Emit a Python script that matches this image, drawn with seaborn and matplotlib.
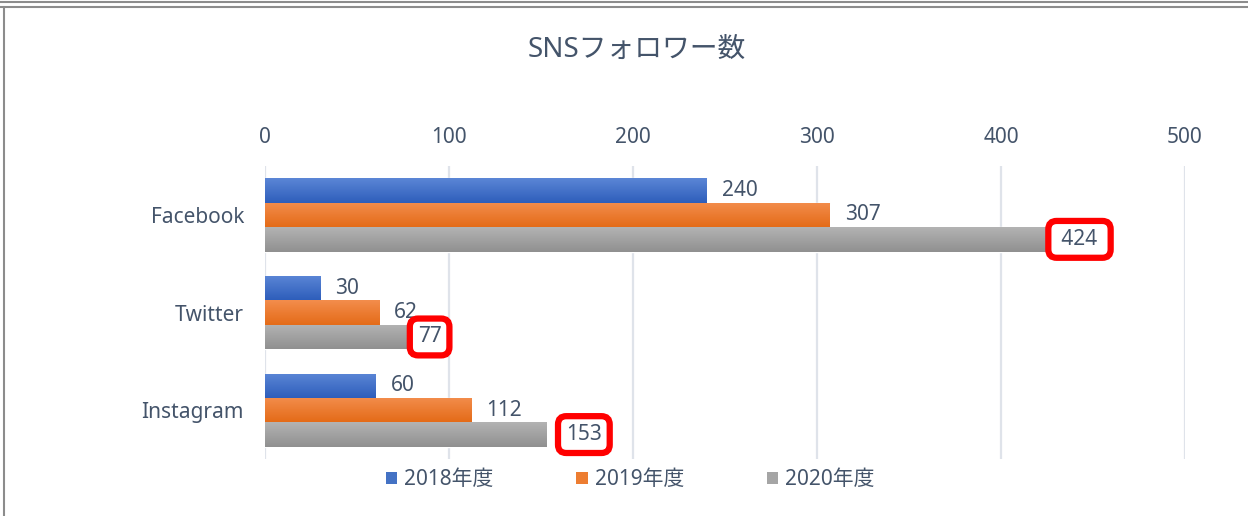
import numpy as np
import pandas as pd
import matplotlib.pyplot as plt
import matplotlib.colors as mcolors
from matplotlib.lines import Line2D
from matplotlib.patches import Patch
import seaborn as sns

# data
platforms = ['Facebook', 'Twitter', 'Instagram']
years = ['2018年度', '2019年度', '2020年度']
followers_2018 = [240, 30, 60]
followers_2019 = [307, 62, 112]
followers_2020 = [424, 77, 153]

# flat colours for legend + gradient ends (top, bottom) for the bars
colors = ['#4472C4', '#ED7D31', '#A5A5A5']
grad_ends = [('#5B86D6', '#2E5EBB'), ('#F38D4C', '#E46B18'), ('#B3B3B3', '#909090')]
text_color = '#44546A'

df = pd.DataFrame({
    'platform': platforms * 3,
    'year': [y for y in years for _ in platforms],
    'value': followers_2018 + followers_2019 + followers_2020,
})

sns.set_style('white')
plt.rcParams['font.family'] = ['Noto Sans', 'Noto Sans CJK JP', 'DejaVu Sans']

fig = plt.figure(figsize=(12.48, 5.16), dpi=100)
ax = fig.add_axes([0.2123, 0.1105, 0.7372, 0.5675])

sns.barplot(data=df, x='value', y='platform', hue='year', orient='h',
            palette=colors, width=0.75, ax=ax, legend=False, saturation=1)

ax.set_xlim(0, 500)
ax.set_xticks(range(0, 501, 100))
ax.xaxis.tick_top()
ax.grid(axis='x', color='#DFE3EA', linewidth=1.6)
ax.set_axisbelow(True)
for s in ax.spines.values():
    s.set_visible(False)
ax.tick_params(axis='x', length=0, pad=13, labelsize=15, labelcolor=text_color)
ax.tick_params(axis='y', length=0, pad=15, labelsize=15, labelcolor=text_color)
ax.set_xlabel('')
ax.set_ylabel('')

# vertical gradient fill on every bar, clipped to the bar itself
xl, yl = ax.get_xlim(), ax.get_ylim()
for container, (c_top, c_bot) in zip(ax.containers, grad_ends):
    top = np.array(mcolors.to_rgb(c_top))
    bot = np.array(mcolors.to_rgb(c_bot))
    grad = np.linspace(top, bot, 64).reshape(64, 1, 3)
    for patch in container.patches:
        x0, y0 = patch.get_x(), patch.get_y()
        w, h = patch.get_width(), patch.get_height()
        im = ax.imshow(grad, extent=[x0, x0 + w, y0 + h, y0], origin='upper',
                       aspect='auto', interpolation='bilinear', zorder=patch.get_zorder() + 0.1)
        im.set_clip_path(patch)
ax.set_xlim(xl)
ax.set_ylim(yl)

# value labels, 2020 highlighted with hand-drawn style red rounded boxes
box_offsets = [8, 8, 14]  # the boxes sit a little differently in the reference
for i, container in enumerate(ax.containers):
    if i == 2:
        # the 424 box is drawn wider than the others in the reference
        labels = [f' {v} ' if v >= 400 else f'{v}' for v in followers_2020]
        anns = ax.bar_label(container, labels=labels, padding=8, fontsize=15, color=text_color,
                            bbox=dict(boxstyle='round,pad=0.38,rounding_size=0.4',
                                      facecolor='white', edgecolor='#FF0000', linewidth=4.5))
        for a, off in zip(anns, box_offsets):
            a.xyann = (off, 0)
    else:
        ax.bar_label(container, padding=11, fontsize=15, color=text_color)

fig.text(0.51, 0.903, 'SNSフォロワー数', ha='center', va='center',
         fontsize=20, color=text_color)

handles = [Patch(facecolor=c, edgecolor='none') for c in colors]
fig.legend(handles, years, loc='center', bbox_to_anchor=(0.505, 0.07), ncol=3,
           frameon=False, fontsize=15, labelcolor=text_color,
           handlelength=0.55, handleheight=0.55, handletextpad=0.35, columnspacing=3.95)

# outer chart frame (top double rule and left edge)
fig.add_artist(Line2D([0, 1], [1 - 2 / 516, 1 - 2 / 516], color='#8C8C8C', linewidth=1.5))
fig.add_artist(Line2D([0, 1], [1 - 7 / 516, 1 - 7 / 516], color='#8C8C8C', linewidth=1.5))
fig.add_artist(Line2D([4 / 1248, 4 / 1248], [0, 1 - 7 / 516], color='#8C8C8C', linewidth=1.5))

fig.savefig('out.png', dpi=100)
plt.close(fig)
